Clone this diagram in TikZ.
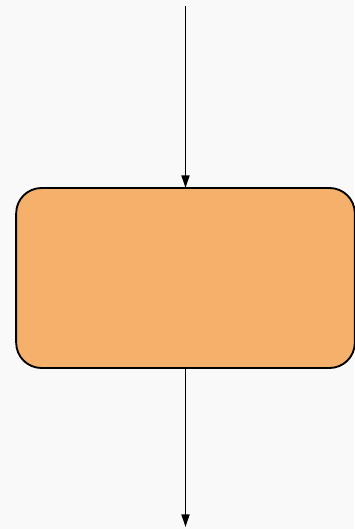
\documentclass[tikz,border=0pt]{standalone}
\usetikzlibrary{arrows.meta}
\definecolor{bg}{HTML}{F9F9F9}
\definecolor{boxfill}{HTML}{F5B16C}
\tikzset{
  procbox/.style={draw=black, line width=1.4pt, fill=boxfill, rounded corners=19pt,
    minimum width=254pt, minimum height=135pt, inner sep=0pt, outer sep=0pt},
  flow/.style={draw=black, line width=1.3pt, -{Triangle[length=9.5pt,width=6pt]}}
}
\begin{document}
\begin{tikzpicture}[x=0.75pt,y=-0.75pt]
\fill[bg] (0,0) rectangle (354,529);
\useasboundingbox (0,0) rectangle (354,529);
\node[procbox] (box) at (185.5,278) {};
\coordinate (top) at (185.5,6);
\coordinate (bot) at (185.5,527);
\draw[flow] (top) -- (box.north);
\draw[flow] (box.south) -- (bot);
\end{tikzpicture}
\end{document}
